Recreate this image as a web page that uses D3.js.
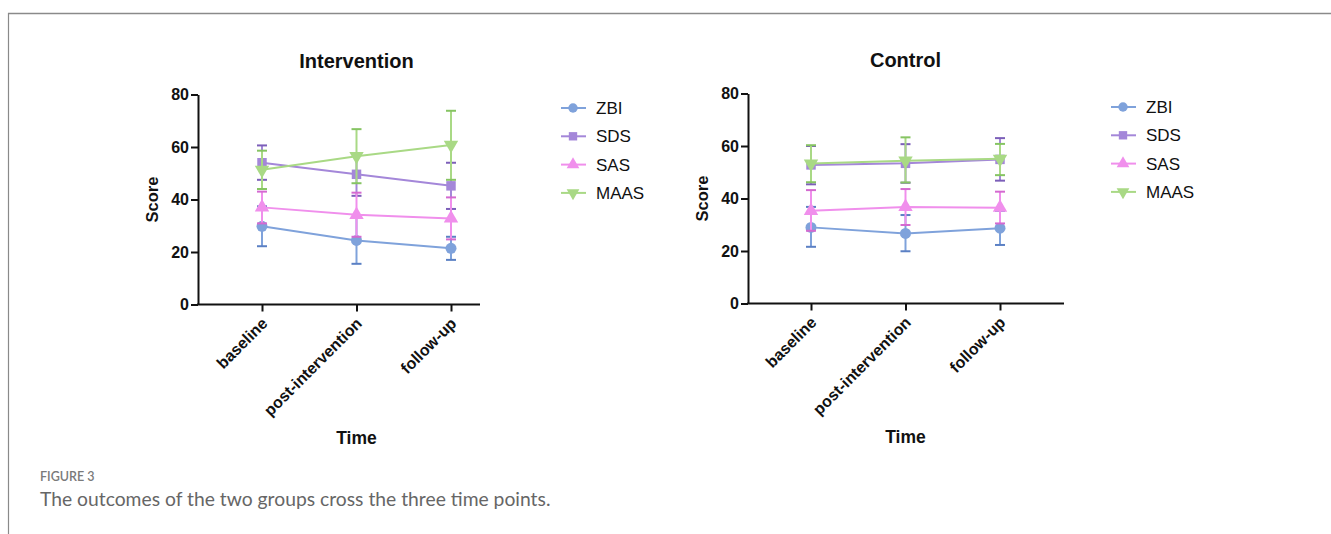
<!DOCTYPE html>
<html>
<head>
<meta charset="utf-8">
<script src="https://cdn.jsdelivr.net/npm/d3@7"></script>
<style>
  body { margin: 0; background: #fff; }
  svg { display: block; }
</style>
</head>
<body>
<div id="chart"></div>
<script>
// time points and series
const timePoints = ['baseline', 'post-intervention', 'follow-up'];
const seriesNames = ['ZBI', 'SDS', 'SAS', 'MAAS'];
const seriesColors = ['#7fa2db', '#a487d9', '#f08fec', '#a9d985'];
const capColors = ['#5b80c4', '#7c5fb9', '#d46ad0', '#86c463'];
const yTicks = [0, 20, 40, 60, 80];

// Intervention group: mean, lower, upper
const intMean = {
  ZBI: [29.8, 24.4, 21.4],
  SDS: [54.0, 49.6, 45.2],
  SAS: [37.0, 34.2, 32.8],
  MAAS: [51.3, 56.5, 60.8],
};
const intLow = {
  ZBI: [22.2, 15.5, 17.0],
  SDS: [47.5, 41.4, 36.4],
  SAS: [30.9, 25.8, 24.8],
  MAAS: [44.0, 46.2, 47.5],
};
const intHigh = {
  ZBI: [37.4, 33.3, 25.8],
  SDS: [60.6, 57.6, 54.0],
  SAS: [43.0, 42.6, 40.8],
  MAAS: [58.6, 66.8, 73.8],
};

// Control group: mean, lower, upper
const ctlMean = {
  ZBI: [29.0, 26.7, 28.7],
  SDS: [52.8, 53.4, 54.9],
  SAS: [35.3, 36.8, 36.5],
  MAAS: [53.3, 54.4, 55.1],
};
const ctlLow = {
  ZBI: [21.6, 19.9, 22.3],
  SDS: [45.4, 46.0, 46.8],
  SAS: [27.7, 29.9, 30.5],
  MAAS: [46.2, 46.1, 48.9],
};
const ctlHigh = {
  ZBI: [36.8, 33.7, 35.3],
  SDS: [60.0, 60.7, 63.0],
  SAS: [43.2, 43.6, 42.6],
  MAAS: [60.3, 63.3, 60.8],
};

const W = 1331;
const H = 534;
const FONT = '"Liberation Sans", Arial, sans-serif';

const svg = d3.select('#chart')
  .append('svg')
  .attr('width', W)
  .attr('height', H);

// page frame
svg.append('line').attr('x1', 8).attr('x2', W).attr('y1', 13.5).attr('y2', 13.5)
  .attr('stroke', '#8a8a8a').attr('stroke-width', 1.5);
svg.append('line').attr('x1', 8.5).attr('x2', 8.5).attr('y1', 13).attr('y2', H)
  .attr('stroke', '#8a8a8a').attr('stroke-width', 1.2);

const symbols = [d3.symbolCircle, d3.symbolSquare, d3.symbolTriangle, d3.symbolTriangle];
const symbolRot = [0, 0, 0, 180];

function drawPanel(opt) {
  const { title, mean, low, high } = opt;
  const g = svg.append('g').attr('font-family', FONT);

  const x = d3.scalePoint().domain(timePoints).range([opt.x0 + opt.firstOff, opt.x0 + opt.firstOff + 189]);
  const y = d3.scaleLinear().domain([0, 80]).range([opt.y0, opt.y0 - 210]);

  // title
  g.append('text')
    .attr('x', x('post-intervention'))
    .attr('y', opt.y0 - 237)
    .attr('text-anchor', 'middle')
    .attr('font-size', 20)
    .attr('font-weight', 'bold')
    .attr('fill', '#111')
    .text(title);

  // y axis
  const yAxis = g.append('g')
    .attr('transform', `translate(${opt.x0},0)`)
    .call(d3.axisLeft(y).tickValues(yTicks).tickSize(7).tickSizeOuter(0));
  yAxis.attr('font-family', FONT);
  yAxis.select('.domain').attr('stroke', '#111').attr('stroke-width', 2);
  yAxis.selectAll('.tick line').attr('stroke', '#111').attr('stroke-width', 2);
  yAxis.selectAll('.tick text')
    .attr('font-size', 16).attr('font-weight', 'bold')
    .attr('fill', '#111').attr('x', -9);

  // x axis
  const xAxis = g.append('g')
    .attr('transform', `translate(0,${opt.y0})`)
    .call(d3.axisBottom(x).tickSize(7).tickSizeOuter(0));
  xAxis.attr('font-family', FONT);
  xAxis.select('.domain').remove();
  xAxis.selectAll('.tick line').attr('stroke', '#111').attr('stroke-width', 2);
  xAxis.selectAll('.tick text')
    .attr('font-size', 16).attr('font-weight', 'bold')
    .attr('fill', '#111')
    .attr('text-anchor', 'end')
    .attr('dy', null)
    .attr('transform', 'translate(6,20) rotate(-45)')
    .attr('x', 0).attr('y', 0);
  g.append('line')
    .attr('x1', opt.x0 - 1).attr('x2', opt.x0 + opt.axisLen)
    .attr('y1', opt.y0).attr('y2', opt.y0)
    .attr('stroke', '#111').attr('stroke-width', 2);

  // axis titles
  g.append('text')
    .attr('transform', `translate(${opt.x0 - 46},${y(40)}) rotate(-90)`)
    .attr('text-anchor', 'middle')
    .attr('dy', '0.35em')
    .attr('font-size', 16.5).attr('font-weight', 'bold')
    .attr('fill', '#111')
    .text('Score');
  g.append('text')
    .attr('x', x('post-intervention'))
    .attr('y', opt.y0 + 139)
    .attr('text-anchor', 'middle')
    .attr('font-size', 17.5).attr('font-weight', 'bold')
    .attr('fill', '#111')
    .text('Time');

  const line = d3.line().x((d) => x(d.t)).y((d) => y(d.v));

  seriesNames.forEach((name, i) => {
    const pts = timePoints.map((t, k) => ({ t, v: mean[name][k], lo: low[name][k], hi: high[name][k] }));
    const s = g.append('g');

    // error bars
    pts.forEach((d) => {
      s.append('line')
        .attr('x1', x(d.t)).attr('x2', x(d.t))
        .attr('y1', y(d.lo)).attr('y2', y(d.hi))
        .attr('stroke', seriesColors[i]).attr('stroke-width', 2);
      [d.lo, d.hi].forEach((v) => {
        s.append('line')
          .attr('x1', x(d.t) - 5).attr('x2', x(d.t) + 5)
          .attr('y1', y(v)).attr('y2', y(v))
          .attr('stroke', capColors[i]).attr('stroke-width', 2);
      });
    });

    s.append('path')
      .datum(pts)
      .attr('d', line)
      .attr('fill', 'none')
      .attr('stroke', seriesColors[i])
      .attr('stroke-width', 2);

    s.selectAll('path.pt')
      .data(pts)
      .join('path')
      .attr('class', 'pt')
      .attr('d', d3.symbol().type(symbols[i]).size(i === 0 ? 95 : 90))
      .attr('transform', (d) => `translate(${x(d.t)},${y(d.v)}) rotate(${symbolRot[i]})`)
      .attr('fill', seriesColors[i]);

    // legend
    const ly = opt.legY + i * 28.3;
    const lg = g.append('g').attr('transform', `translate(${opt.legX},${ly})`);
    lg.append('line').attr('x1', 0).attr('x2', 25).attr('y1', 0).attr('y2', 0)
      .attr('stroke', seriesColors[i]).attr('stroke-width', 2);
    lg.append('path')
      .attr('d', d3.symbol().type(symbols[i]).size(70))
      .attr('transform', `translate(12,0) rotate(${symbolRot[i]})`)
      .attr('fill', seriesColors[i]);
    lg.append('text')
      .attr('x', 35).attr('y', 0).attr('dy', '0.35em')
      .attr('font-size', 17)
      .attr('fill', '#111')
      .text(name);
  });
}

drawPanel({
  title: 'Intervention', mean: intMean, low: intLow, high: intHigh,
  x0: 198, y0: 304.5, firstOff: 64, axisLen: 282, legX: 561, legY: 108,
});
drawPanel({
  title: 'Control', mean: ctlMean, low: ctlLow, high: ctlHigh,
  x0: 748, y0: 303.5, firstOff: 63, axisLen: 316, legX: 1111, legY: 107,
});

// caption
svg.append('text')
  .attr('x', 40).attr('y', 481)
  .style('font-family', 'Lato, "Open Sans", sans-serif')
  .style('font-size', '12.5px')
  .style('font-weight', '600')
  .attr('fill', '#7a7a7a')
  .text('FIGURE 3');
svg.append('text')
  .attr('x', 40).attr('y', 506)
  .style('font-family', 'Lato, "Open Sans", sans-serif')
  .style('font-size', '19.3px')
  .attr('fill', '#666')
  .text('The outcomes of the two groups cross the three time points.');
</script>
</body>
</html>
